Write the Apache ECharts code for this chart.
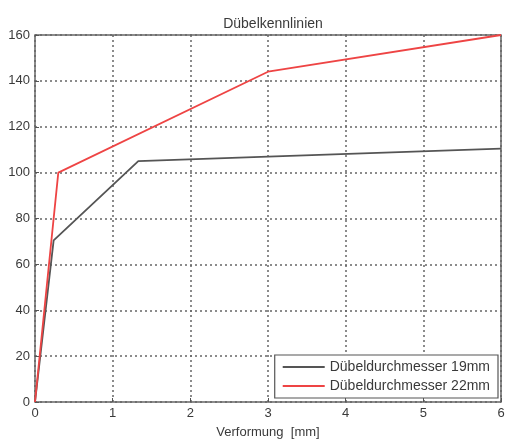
<!DOCTYPE html>
<html><head><meta charset="utf-8">
<script src="https://cdn.jsdelivr.net/npm/echarts@6/dist/echarts.min.js"></script>
<style>html,body{margin:0;padding:0;background:#fff}#c{width:513px;height:447px}</style>
</head><body><div id="c"></div>
<script>
const title = 'Dübelkennlinien';
const xName = 'Verformung  [mm]';
const seriesNames = ['Dübeldurchmesser 19mm', 'Dübeldurchmesser 22mm'];
const x19 = [0, 0.24, 1.33, 3, 6];
const y19 = [0, 70.5, 105, 107, 110.5];
const x22 = [0, 0.3, 3, 6];
const y22 = [0, 100, 144, 160];
const xTicks = [0, 1, 2, 3, 4, 5, 6];
const yTicks = [0, 20, 40, 60, 80, 100, 120, 140, 160];

const chart = echarts.init(document.getElementById('c'));
const font = 'Liberation Sans, Arial, sans-serif';
const toPairs = (xs, ys) => xs.map((x, i) => [x, ys[i]]);
chart.setOption({
  animation: false,
  backgroundColor: '#fff',
  title: { text: title, left: 268, top: 12, textAlign: 'center',
    textStyle: { fontSize: 14, fontWeight: 'normal', color: '#3a3a3a', fontFamily: font } },
  grid: { left: 35, right: 12, top: 35, bottom: 45, show: true, borderColor: '#666', borderWidth: 1.5, backgroundColor: '#fff' },
  xAxis: { type: 'value', min: xTicks[0], max: xTicks[xTicks.length - 1], interval: 1,
    name: xName, nameLocation: 'middle', nameGap: 24,
    nameTextStyle: { fontSize: 13, color: '#3a3a3a', fontFamily: font },
    axisLine: { show: false },
    axisTick: { show: true, inside: true, length: 4, lineStyle: { color: '#555' } },
    axisLabel: { fontSize: 13, color: '#3a3a3a', fontFamily: font, margin: 5 },
    splitLine: { show: true, lineStyle: { color: '#666', type: [2, 3], width: 1.5 } } },
  yAxis: { type: 'value', min: yTicks[0], max: yTicks[yTicks.length - 1], interval: 20,
    axisLine: { show: false },
    axisTick: { show: true, inside: true, length: 4, lineStyle: { color: '#555' } },
    axisLabel: { fontSize: 13, color: '#3a3a3a', fontFamily: font, margin: 5 },
    splitLine: { show: true, lineStyle: { color: '#666', type: [2, 3], width: 1.5 } } },
  legend: { orient: 'vertical', right: 15, bottom: 49, backgroundColor: '#fff',
    borderColor: '#555', borderWidth: 1.2, borderRadius: 0, padding: [5, 8, 5, 8],
    itemWidth: 42, itemHeight: 2, itemGap: 5, icon: 'rect',
    textStyle: { fontSize: 14, color: '#3a3a3a', fontFamily: font },
    data: seriesNames },
  series: [
    { name: seriesNames[0], type: 'line', data: toPairs(x19, y19), showSymbol: false, symbol: 'none',
      lineStyle: { color: '#555', width: 1.8 }, itemStyle: { color: '#555' } },
    { name: seriesNames[1], type: 'line', data: toPairs(x22, y22), showSymbol: false, symbol: 'none',
      lineStyle: { color: '#ee4444', width: 1.8 }, itemStyle: { color: '#ee4444' } }
  ]
});
</script></body></html>
